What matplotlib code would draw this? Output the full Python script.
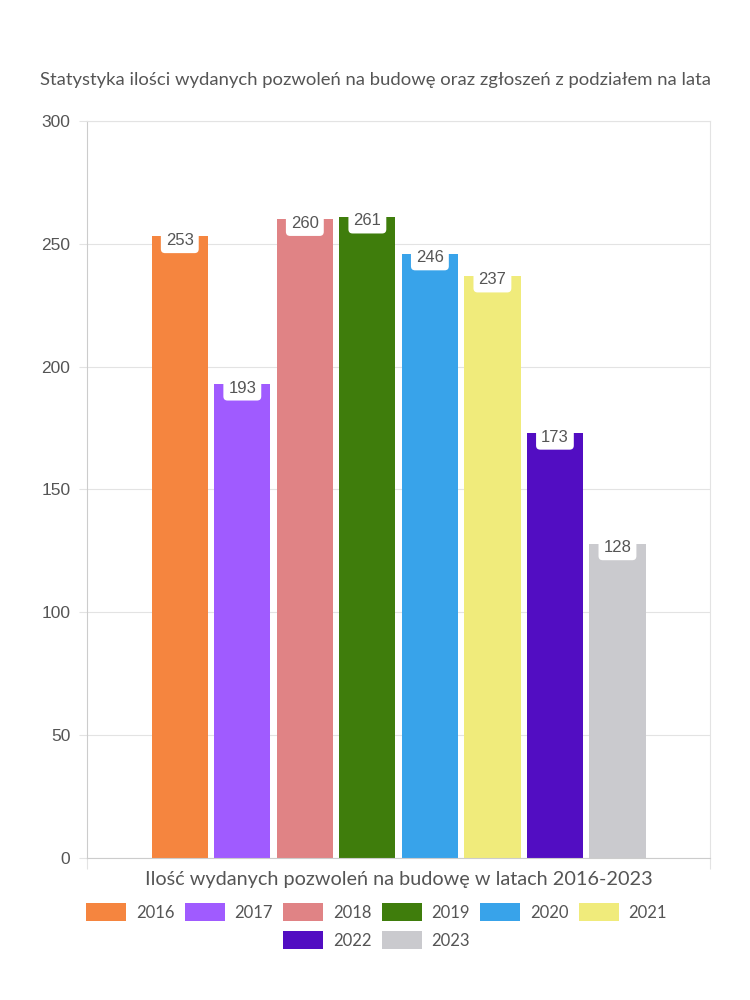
import matplotlib
matplotlib.use("Agg")
import matplotlib.pyplot as plt
from matplotlib.patches import Patch

# Data ...
years = ["2016", "2017", "2018", "2019", "2020", "2021", "2022", "2023"]
permits = [253, 193, 260, 261, 246, 237, 173, 128]
colors = ["#F5853F", "#A05BFF", "#E08385", "#3F7D0C", "#38A3EA", "#F0EB7B", "#520DC2", "#CACACE"]
yticks = [0, 50, 100, 150, 200, 250, 300]

title = "Statystyka ilości wydanych pozwoleń na budowę oraz zgłoszeń z podziałem na lata"
xlabel = "Ilość wydanych pozwoleń na budowę w latach 2016-2023"

textColor = "#555555"
gridColor = "#E3E3E3"
plt.rcParams["font.family"] = ["Lato", "DejaVu Sans"]

# Create figure ...
fg = plt.figure(figsize = (7.5, 10.0), dpi = 100)
ax = fg.add_axes([0.116, 0.142, 0.831, 0.737])

# Plot bars ...
pos = list(range(len(years)))
ax.bar(pos, permits, width = 0.9, color = colors, zorder = 2)

# Value labels ...
for x, v in zip(pos, permits):
    ax.annotate(
        f"{v:d}",
        (x, v),
        xytext = (0, -3),
        textcoords = "offset points",
        ha = "center",
        va = "center",
        fontsize = 12,
        color = textColor,
        family = "Liberation Sans",
        bbox = dict(boxstyle = "round,pad=0.3,rounding_size=0.25", fc = "white", ec = "none"),
        zorder = 3,
    )

# Configure axis ...
ax.set_xlim(-1.484, 8.484)
ax.set_ylim(0, 300)
ax.set_yticks(yticks)
ax.set_xticks([-1.484, 8.484])
ax.set_xticklabels(["", ""])
ax.tick_params(axis = "y", length = 6, color = gridColor, labelsize = 12.5, labelcolor = textColor, pad = 6)
ax.tick_params(axis = "x", length = 8, color = gridColor)
for lbl in ax.get_yticklabels():
    lbl.set_family("Liberation Sans")
ax.grid(axis = "y", color = gridColor, linewidth = 0.8, zorder = 0)
ax.set_axisbelow(True)
for sp in ax.spines.values():
    sp.set_color(gridColor)
    sp.set_linewidth(0.8)
ax.spines["left"].set_color("#CCCCCC")
ax.spines["bottom"].set_color("#CCCCCC")

# Texts ...
fg.text(0.5, 0.920, title, ha = "center", va = "center", fontsize = 13.3, color = textColor)
fg.text(0.532, 0.120, xlabel, ha = "center", va = "center", fontsize = 14.3, color = textColor)

# Legends ...
handles = [Patch(facecolor = c, edgecolor = "none") for c in colors]
kw = dict(
    frameon = False,
    fontsize = 12,
    labelcolor = textColor,
    handlelength = 2.4,
    handleheight = 1.2,
    handletextpad = 0.6,
    columnspacing = 0.6,
    loc = "center",
)
fg.legend(handles[:6], years[:6], ncol = 6, bbox_to_anchor = (0.502, 0.088), **kw)
fg.legend(handles[6:], years[6:], ncol = 2, bbox_to_anchor = (0.502, 0.060), **kw)

fg.savefig("out.png", dpi = 100, facecolor = "white")
plt.close(fg)
